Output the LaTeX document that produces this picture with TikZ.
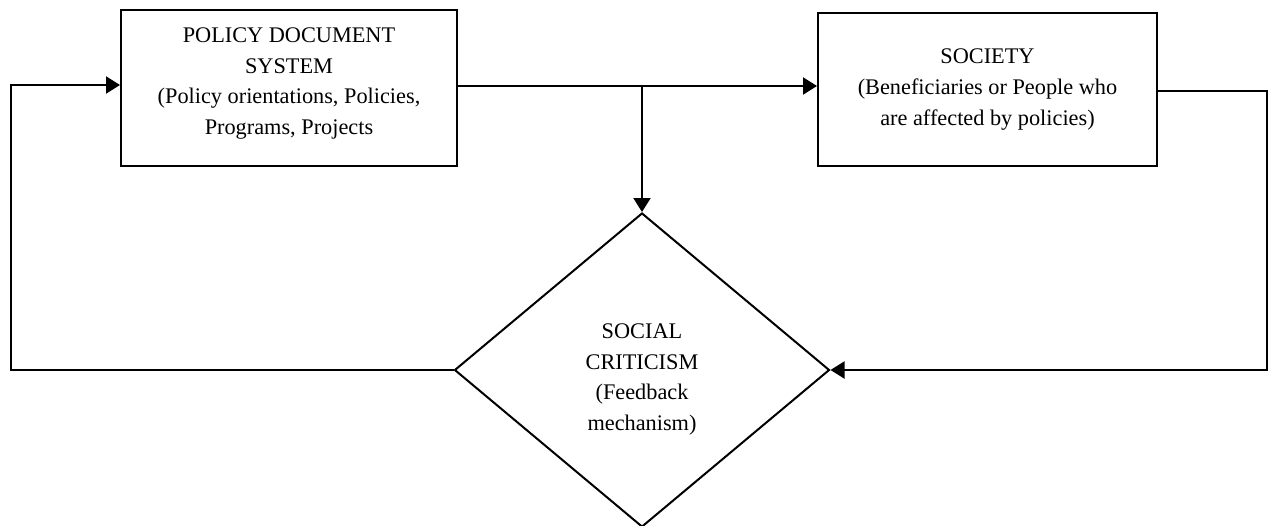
\documentclass[tikz,border=0pt]{standalone}
\usepackage{fontspec}
\setmainfont{Liberation Serif}
\usetikzlibrary{shapes.geometric,arrows.meta}
\begin{document}
\begin{tikzpicture}[x=1pt,y=-1pt,
  labeltext/.style={inner sep=0pt,align=center,font=\fontsize{22.3}{30.7}\selectfont},
  boxnode/.style={draw,line width=2pt,rectangle,inner sep=0pt,labeltext},
  critnode/.style={draw,line width=2pt,diamond,inner sep=0pt,minimum width=375pt,minimum height=314pt},
  conn/.style={line width=2pt},
  arr/.style={conn,-{Triangle[length=14pt,width=17pt]}}]
\useasboundingbox (0,0) rectangle (1268,525);
\node[boxnode,minimum width=336pt,minimum height=156pt] (box1) at (289,88) {};
\node[labeltext] (box1text) at (289,83.5)
  {POLICY DOCUMENT\\SYSTEM\\(Policy orientations, Policies,\\Programs, Projects};
\node[boxnode,minimum width=339pt,minimum height=153pt] (box2) at (987.5,89.5)
  {SOCIETY\\(Beneficiaries or People who\\are affected by policies)};
\node[critnode] (crit) at (642,370) {};
\node[labeltext] (crittext) at (642,379.5)
  {SOCIAL\\CRITICISM\\(Feedback\\mechanism)};
\coordinate (j) at (642,86);
\coordinate (r1) at (1267,91);
\coordinate (l1) at (11,85);
\draw[conn] (box1.east |- j) -- (j);
\draw[arr] (j) -- (box2.west |- j);
\draw[arr] (j) -- (crit.north);
\draw[arr] (box2.east |- r1) -- (r1) |- (crit.east);
\draw[arr] (crit.west) -| (l1) -- (box1.west |- l1);
\end{tikzpicture}
\end{document}
